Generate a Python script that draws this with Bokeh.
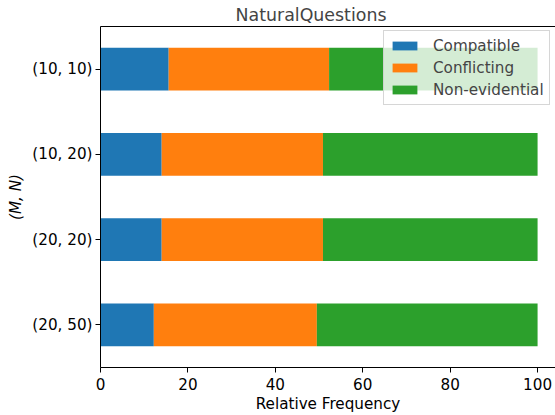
from bokeh.plotting import figure
from bokeh.models import (FactorRange, Range1d, Legend, LegendItem, ColumnDataSource,
                          LinearAxis, FixedTicker)
from bokeh.embed import file_html
from bokeh.resources import INLINE

categories = ["(10, 10)", "(10, 20)", "(20, 20)", "(20, 50)"]
compatible = [15.6, 14.0, 14.0, 12.2]
conflicting = [36.7, 36.9, 36.9, 37.3]
non_evidential = [47.7, 49.1, 49.1, 50.5]
series = ["Compatible", "Conflicting", "Non-evidential"]
colors = ["#1f77b4", "#ff7f0e", "#2ca02c"]
x_ticks = [0, 20, 40, 60, 80, 100]

source = ColumnDataSource(dict(cat=categories, Compatible=compatible,
                               Conflicting=conflicting,
                               **{"Non-evidential": non_evidential}))

FONT = "DejaVu Sans"
FS = "15.2px"

p = figure(width=555, height=415, output_backend="svg", toolbar_location=None,
           y_range=FactorRange(factors=categories[::-1], range_padding=0),
           x_range=Range1d(0, 104.1),
           min_border_left=100, min_border_right=0, min_border_top=26, min_border_bottom=48,
           title="NaturalQuestions")

rs = p.hbar_stack(series, y="cat", height=0.5, color=colors, source=source, line_width=0)

p.title.text_font = FONT
p.title.text_font_size = "17.4px"
p.title.text_font_style = "normal"
p.title.align = "left"
p.title.offset = 135
p.title.standoff = 4

p.xgrid.visible = False
p.ygrid.visible = False
p.outline_line_color = None

xa = p.below[0]
ya = p.left[0]

top_axis = LinearAxis(ticker=FixedTicker(ticks=[]), axis_line_color="black",
                      major_tick_line_color=None, minor_tick_line_color=None,
                      major_label_standoff=0)
p.add_layout(top_axis, "above")

for ax in (xa, ya):
    ax.major_label_text_font = FONT
    ax.major_label_text_font_size = FS
    ax.major_label_text_color = "black"
    ax.axis_label_text_font = FONT
    ax.axis_label_text_font_size = FS
    ax.axis_label_text_color = "black"
    ax.axis_line_color = "black"
    ax.major_tick_line_color = "black"
    ax.major_tick_out = 5
    ax.major_tick_in = 0
    ax.minor_tick_line_color = None
    ax.major_label_standoff = 3

xa.ticker = x_ticks
xa.axis_label = "Relative Frequency"
xa.axis_label_text_font_style = "normal"
xa.axis_label_standoff = 2
xa.major_label_standoff = 5

ya.axis_label = "(M, N)"
ya.axis_label_text_font_style = "italic"
ya.axis_label_standoff = 4

legend = Legend(items=[LegendItem(label=s, renderers=[r]) for s, r in zip(series, rs)],
                location=(283, 262))
legend.label_text_font = FONT
legend.label_text_font_size = FS
legend.glyph_width = 31
legend.glyph_height = 11
legend.label_height = 19
legend.label_standoff = 13
legend.spacing = 3
legend.padding = 5
legend.margin = 0
legend.background_fill_alpha = 0.8
legend.border_line_color = "#cccccc"
legend.border_line_alpha = 0.8
p.add_layout(legend, "center")

open("out.html", "w").write(file_html(p, INLINE))
